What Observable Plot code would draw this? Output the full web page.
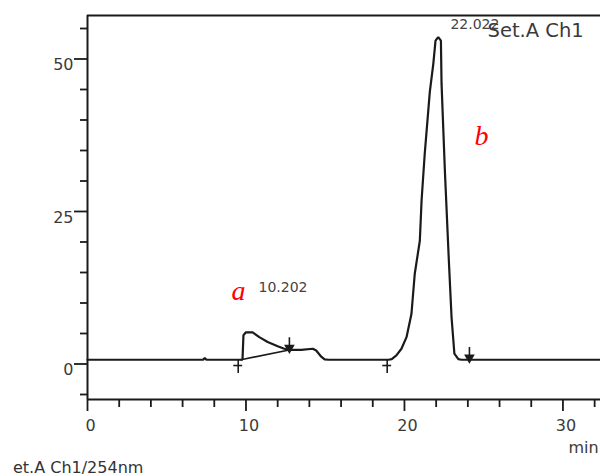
<!DOCTYPE html>
<html>
<head>
<meta charset="utf-8">
<script src="https://cdn.jsdelivr.net/npm/d3@7"></script>
<script src="https://cdn.jsdelivr.net/npm/@observablehq/plot@0.6"></script>
<style>
  html, body { margin: 0; padding: 0; background: #fff; }
  #wrap { position: relative; width: 600px; height: 476px; overflow: hidden; font-family: "DejaVu Sans", sans-serif; }
  #caption { position: absolute; left: 13px; top: 460px; font-size: 16px; line-height: 16px; color: #333; white-space: nowrap; }
</style>
</head>
<body>
<div id="wrap"><div id="chart"></div><div id="caption">et.A Ch1/254nm</div></div>
<script>
// Chromatogram trace (time in min, signal in mAU)
const time = [0, 7.3, 7.4, 7.5, 9.55, 9.78, 9.84, 10.0, 10.42, 10.84, 11.37, 12.0, 12.42, 12.74, 13.48, 14.22, 14.43, 14.75, 14.96, 15.2,
  19.0, 19.2, 19.49, 19.81, 20.13, 20.44, 20.65, 20.97, 21.08, 21.28, 21.6, 21.82, 21.96, 22.13, 22.30, 22.34, 22.55, 22.80, 22.97, 23.15, 23.4, 23.6, 32.4];
const signal = [0.7, 0.7, 1.0, 0.7, 0.7, 0.7, 4.7, 5.2, 5.2, 4.4, 3.6, 2.9, 2.5, 2.3, 2.3, 2.5, 2.2, 1.2, 0.75, 0.7,
  0.7, 0.8, 1.4, 2.5, 4.4, 8.2, 14.8, 20.2, 26.8, 34.5, 44.6, 49.2, 53.0, 53.6, 53.0, 46.0, 31.7, 17.0, 7.7, 1.7, 0.8, 0.7, 0.7];

// Integration baseline of peak a
const baseTime = [9.68, 12.72];
const baseSignal = [0.7, 2.3];

// Peak start markers (+) and peak end markers
const startTimes = [9.51, 18.91];
const endTimes = [12.74, 24.1];
const endLevels = [2.3, 0.7];

// Annotations
const peakLabels = ["10.202", "22.022"];
const peakLabelTime = [10.79, 22.9];
const peakLabelSignal = [12.5, 55.7];
const letters = ["a", "b"];
const letterTime = [9.53, 24.86];
const letterSignal = [11.9, 37.3];

// Axis ticks
const xMajor = [0, 10, 20, 30];
const xMinor = [2, 4, 6, 8, 12, 14, 16, 18, 22, 24, 26, 28, 32];
const yMajor = [0, 25, 50];
const yMinor = [-5, 5, 10, 15, 20, 30, 35, 40, 45, 55];
const xDomain = [0, 32.37];
const yDomain = [-5.82, 57.13];

const trace = time.map((t, i) => ({t, v: signal[i]}));
const base = baseTime.map((t, i) => ({t, v: baseSignal[i]}));
const starts = startTimes.map(t => ({t}));
const ends = endTimes.map((t, i) => ({t, v: endLevels[i]}));
const labels = peakLabels.map((s, i) => ({s, t: peakLabelTime[i], v: peakLabelSignal[i]}));
const lets = letters.map((s, i) => ({s, t: letterTime[i], v: letterSignal[i]}));

const ink = "#1a1a1a";
const txt = "#3a3a3a";
const pxX = 15.85, pxY = 6.1;

const chart = Plot.plot({
  width: 600,
  height: 452,
  marginLeft: 87,
  marginRight: 0,
  marginTop: 15,
  marginBottom: 53,
  style: {fontFamily: "DejaVu Sans, sans-serif", background: "transparent", overflow: "visible"},
  x: {domain: xDomain, axis: null},
  y: {domain: yDomain, axis: null},
  marks: [
    // frame lines
    Plot.ruleY([yDomain[0]], {stroke: ink, strokeWidth: 2}),
    Plot.ruleY([yDomain[1]], {stroke: ink, strokeWidth: 2}),
    Plot.ruleX([xDomain[0]], {stroke: ink, strokeWidth: 2}),
    // y ticks
    Plot.ruleY(yMajor, {y: d => d, x1: xDomain[0] - 13 / pxX, x2: xDomain[0], stroke: ink, strokeWidth: 1.8}),
    Plot.ruleY(yMinor, {y: d => d, x1: xDomain[0] - 7 / pxX, x2: xDomain[0], stroke: ink, strokeWidth: 1.8}),
    Plot.text(yMajor, {y: d => d, text: d => String(d), frameAnchor: "left", textAnchor: "end", dx: -14, dy: 6, fontSize: 16, fill: txt}),
    // x ticks
    Plot.ruleX(xMajor, {x: d => d, y1: yDomain[0], y2: yDomain[0] - 12 / pxY, stroke: ink, strokeWidth: 1.8}),
    Plot.ruleX(xMinor, {x: d => d, y1: yDomain[0], y2: yDomain[0] - 8 / pxY, stroke: ink, strokeWidth: 1.8}),
    Plot.text(xMajor, {x: d => d, text: d => String(d), frameAnchor: "bottom", dy: 31, dx: 3, fontSize: 16, fill: txt}),
    Plot.text(["min"], {x: 30.35, text: d => d, frameAnchor: "bottom", textAnchor: "start", dy: 53, fontSize: 16, fill: txt}),
    // integration baseline
    Plot.line(base, {x: "t", y: "v", stroke: ink, strokeWidth: 1.6}),
    // trace
    Plot.line(trace, {x: "t", y: "v", stroke: ink, strokeWidth: 2.2, strokeLinejoin: "miter"}),
    // start markers
    Plot.ruleX(starts, {x: "t", y1: 0.7, y2: -1.55, stroke: ink, strokeWidth: 1.6}),
    Plot.ruleY(starts, {y: -0.25, x1: d => d.t - 0.28, x2: d => d.t + 0.28, stroke: ink, strokeWidth: 1.6}),
    // end markers
    Plot.ruleX(ends, {x: "t", y1: "v", y2: d => d.v + 2.0, stroke: ink, strokeWidth: 1.6}),
    Plot.dot(ends, {x: "t", y: d => d.v + 0.35, symbol: "triangle", r: 3, fill: ink, stroke: ink, rotate: 180}),
    // peak labels
    Plot.text(labels, {x: "t", y: "v", text: "s", textAnchor: "start", fontSize: 14, fill: "#444"}),
    Plot.text(["Set.A Ch1"], {x: 25.24, y: 54.7, text: d => d, textAnchor: "start", fontSize: 19.5, fill: txt}),
    // handwritten letters
    Plot.text(lets, {x: "t", y: "v", text: "s", fontSize: 28, fontStyle: "italic", fontFamily: "Liberation Serif, serif", fill: "#ff0000"})
  ]
});
document.getElementById("chart").appendChild(chart);
</script>
</body>
</html>
